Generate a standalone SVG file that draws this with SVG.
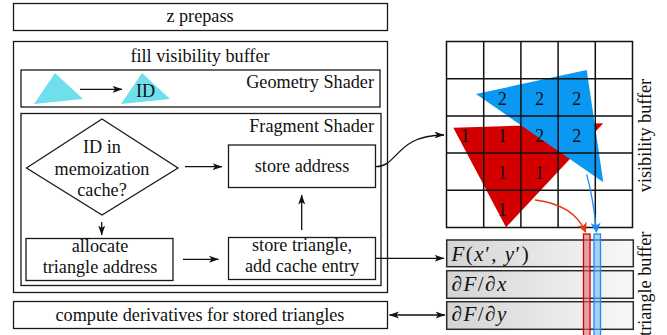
<svg xmlns="http://www.w3.org/2000/svg" width="667" height="335" viewBox="0 0 667 335">
  <defs>
    <marker id="arr" viewBox="0 0 10 8" refX="9.5" refY="4" markerWidth="10" markerHeight="8" orient="auto-start-reverse" markerUnits="userSpaceOnUse">
      <path d="M0,0.5 L10,4 L0,7.5 L2.6,4 Z" fill="#111"/>
    </marker>
    <marker id="arrRed" viewBox="0 0 10 10" refX="9" refY="5" markerWidth="10" markerHeight="10" orient="auto" markerUnits="userSpaceOnUse">
      <path d="M0,0 L10,5 L0,10 L2.5,5 Z" fill="#e8360e"/>
    </marker>
    <marker id="arrBlue" viewBox="0 0 10 10" refX="9" refY="5" markerWidth="10" markerHeight="10" orient="auto" markerUnits="userSpaceOnUse">
      <path d="M0,0 L10,5 L0,10 L2.5,5 Z" fill="#1a8cff"/>
    </marker>
    <linearGradient id="tbFill" x1="0" y1="0" x2="1" y2="0">
      <stop offset="0" stop-color="#d4d4d4"/>
      <stop offset="1" stop-color="#f8f8f8"/>
    </linearGradient>
  </defs>
  <style>
    .box{fill:#fff;stroke:#1a1a1a;stroke-width:1.3}
    .frame{fill:none;stroke:#1a1a1a;stroke-width:1.3}
    .t{font-family:"Liberation Serif","Times New Roman",serif;font-size:18.2px;fill:#111}
    .mid{text-anchor:middle}
    .end{text-anchor:end}
    .math{font-family:"Liberation Serif","Times New Roman",serif;font-size:21px;letter-spacing:1.5px;fill:#111}
    .it{font-style:italic}
    .link{fill:none;stroke:#111;stroke-width:1.3}
    .grid{fill:none;stroke:#111;stroke-width:1.5}
    .tb{fill:url(#tbFill);stroke:#2a2a2a;stroke-width:1.5}
    .tri{fill:#6fdfec}
  </style>

  <!-- z prepass -->
  <g id="z-prepass">
    <rect class="box" x="13.5" y="3.5" width="374" height="27"/>
    <text class="t mid" x="200" y="22">z prepass</text>
  </g>

  <!-- fill visibility buffer pass -->
  <g id="fill-visibility-buffer">
    <rect class="frame" x="13.5" y="41.5" width="374" height="251"/>
    <text class="t mid" x="200" y="62">fill visibility buffer</text>
  </g>

  <g id="geometry-shader">
    <rect class="frame" x="21" y="70" width="359" height="37"/>
    <text class="t end" x="374" y="88">Geometry Shader</text>
    <polygon class="tri" points="34,104 55,73 83,99"/>
    <polygon class="tri" points="121,104 142,73 170,99"/>
    <text class="t" x="136" y="97">ID</text>
  </g>

  <g id="fragment-shader">
    <rect class="frame" x="21" y="113.5" width="360" height="172"/>
    <text class="t end" x="374" y="132">Fragment Shader</text>
  </g>

  <g id="cache-test">
    <polygon class="box" points="26.5,168 102,119 178,168 102,215"/>
    <text class="t mid" x="102" y="153">ID in</text>
    <text class="t mid" x="102" y="175">memoization</text>
    <text class="t mid" x="102" y="196">cache?</text>
  </g>

  <g id="store-address">
    <rect class="box" x="228.5" y="145" width="147" height="42.5"/>
    <text class="t mid" x="302" y="172">store address</text>
  </g>

  <g id="allocate">
    <rect class="box" x="26" y="238.5" width="147" height="42"/>
    <text class="t mid" x="100" y="252">allocate</text>
    <text class="t mid" x="100" y="273">triangle address</text>
  </g>

  <g id="store-triangle">
    <rect class="box" x="228.5" y="237.5" width="147" height="42"/>
    <text class="t mid" x="302" y="251">store triangle,</text>
    <text class="t mid" x="302" y="272">add cache entry</text>
  </g>

  <g id="compute-derivatives">
    <rect class="box" x="13.5" y="301.5" width="374" height="27"/>
    <text class="t mid" x="200" y="321">compute derivatives for stored triangles</text>
  </g>

  <!-- visibility buffer: 5x5 pixel grid with two rasterized triangles -->
  <g id="visibility-buffer">
    <polygon points="453.3,127.7 603.3,123.3 506,227.3" fill="#d40000"/>
    <polygon points="476,94 586.7,70 603.3,182.3" fill="#0a98f2"/>
    <path class="grid" d="M446.5,41.5 H632.5 V227.5 H446.5 Z M483.7,41.5 V227.5 M520.9,41.5 V227.5 M558.1,41.5 V227.5 M595.3,41.5 V227.5 M446.5,78.7 H632.5 M446.5,115.9 H632.5 M446.5,153.1 H632.5 M446.5,190.3 H632.5"/>
    <g class="t mid">
      <text x="502.3" y="104.5">2</text>
      <text x="539.5" y="104.5">2</text>
      <text x="576.7" y="104.5">2</text>
      <text x="465.1" y="141.7">1</text>
      <text x="502.3" y="141.7">1</text>
      <text x="539.5" y="141.7">2</text>
      <text x="576.7" y="141.7">2</text>
      <text x="502.3" y="178.9">1</text>
      <text x="539.5" y="178.9">1</text>
      <text x="502.3" y="216.1">1</text>
    </g>
    <text class="t mid" transform="translate(651,135.5) rotate(-90)">visibility buffer</text>
  </g>

  <!-- triangle buffer: one column per stored triangle -->
  <g id="triangle-buffer">
    <rect class="tb" x="446.7" y="240" width="186.6" height="26.7"/>
    <rect class="tb" x="446.7" y="270.7" width="186.6" height="27.6"/>
    <rect class="tb" x="446.7" y="301.7" width="186.6" height="27.6"/>
    <text class="math" x="451.5" y="261"><tspan class="it">F</tspan>(<tspan class="it">x</tspan>′, <tspan class="it">y</tspan>′)</text>
    <text class="math" x="451.5" y="291">∂<tspan class="it">F</tspan>/∂<tspan class="it">x</tspan></text>
    <text class="math" x="451.5" y="321">∂<tspan class="it">F</tspan>/∂<tspan class="it">y</tspan></text>
    <rect x="583.5" y="234" width="6.5" height="102" fill="#e07070" fill-opacity="0.6" stroke="#d40000" stroke-width="1.3"/>
    <rect x="594" y="234" width="6.5" height="102" fill="#6fbcf5" fill-opacity="0.6" stroke="#1a8cff" stroke-width="1.3"/>
    <text class="t end" transform="translate(651,231.7) rotate(-90)">triangle buffer</text>
  </g>

  <!-- connectors -->
  <g id="connectors">
    <line class="link" x1="80" y1="89.3" x2="122" y2="89.3" marker-end="url(#arr)"/>
    <line class="link" x1="185" y1="166.7" x2="222" y2="166.7" marker-end="url(#arr)"/>
    <line class="link" x1="101.7" y1="222" x2="101.7" y2="235" marker-end="url(#arr)"/>
    <line class="link" x1="183" y1="259.3" x2="218.5" y2="259.3" marker-end="url(#arr)"/>
    <line class="link" x1="301.7" y1="230" x2="301.7" y2="195" marker-end="url(#arr)"/>
    <path class="link" d="M376,166.7 C398,166.7 396,135 444,135" marker-end="url(#arr)"/>
    <line class="link" x1="375.7" y1="258.3" x2="444" y2="258.3" marker-end="url(#arr)"/>
    <line class="link" x1="389.5" y1="315" x2="445" y2="315" marker-start="url(#arr)" marker-end="url(#arr)"/>
    <path fill="none" stroke="#e8360e" stroke-width="1.3" d="M535,200 C560,203 578,214 585.5,232" marker-end="url(#arrRed)"/>
    <path fill="none" stroke="#1a8cff" stroke-width="1.3" d="M586.7,174.3 C591,190 594.5,210 596.5,232" marker-end="url(#arrBlue)"/>
  </g>
</svg>
